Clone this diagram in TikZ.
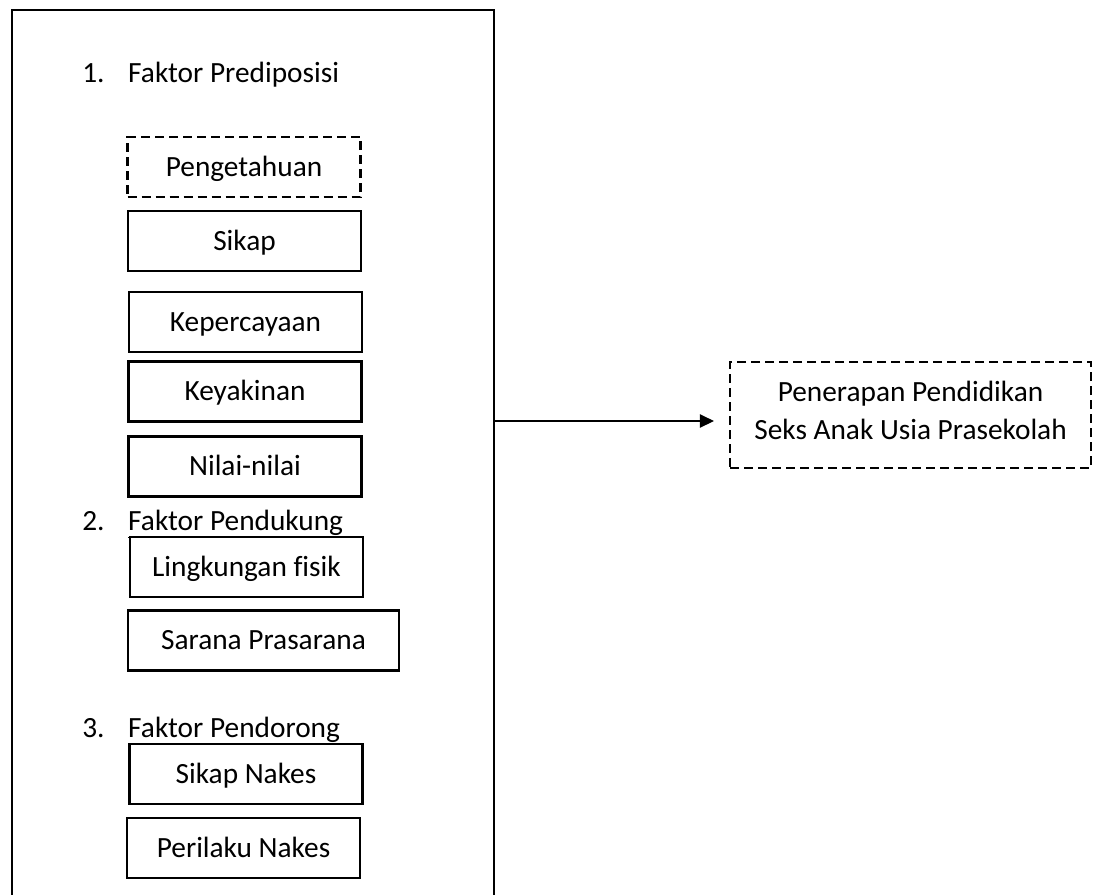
\documentclass[tikz,border=0pt]{standalone}
\usepackage{fontspec}
\setmainfont{Carlito}[Ligatures=NoCommon]
\usetikzlibrary{ arrows.meta, % For the triangle arrow tip
               }
\tikzstyle{factor} = [rectangle, draw=black, line width=1.6pt, fill=white, minimum width=174.75pt, minimum height=45pt, inner sep=0pt, text height=13.9pt, text depth=0pt, font=\fontsize{22}{28.5}\selectfont]
\tikzstyle{dashedfactor} = [factor, dash pattern=on 6.75pt off 3.75pt]
\tikzstyle{heading} = [anchor=base west, inner sep=0pt, font=\fontsize{22}{28.5}\selectfont]
\tikzstyle{flow} = [-{Triangle[length=10.5pt,width=10pt]}, line width=0.8pt]

\begin{document}
\begin{tikzpicture}[x=0.75pt, y=-0.75pt]
  \useasboundingbox (0,0) rectangle (1098,894);
  \node (outer) [rectangle, draw=black, line width=1.6pt, minimum width=361.5pt, minimum height=675pt, inner sep=0pt] at (253,460) {};

  % 1. predisposing factors
  \node (h1) [heading] at (82,82) {\makebox[34.5pt][l]{1.}Faktor Prediposisi};
  \node (peng) [dashedfactor] at (244,167) {Pengetahuan};
  \node (sikap) [factor] at (244.5,241) {Sikap};
  \node (percaya) [factor] at (245.5,322) {Kepercayaan};
  \node (yakin) [factor] at (245,391.5) {Keyakinan};
  \node (nilai) [factor] at (245,466.5) {Nilai-nilai};

  % 2. enabling factors
  \node (h2) [heading] at (82,530) {\makebox[34.5pt][l]{2.}\underline{Faktor Pendukung}};
  \node (fisik) [factor] at (246.5,567) {Lingkungan fisik};
  \node (sarana) [factor, minimum width=203.25pt] at (263.5,640.5) {Sarana Prasarana};

  % 3. reinforcing factors
  \node (h3) [heading] at (82,737) {\makebox[34.5pt][l]{3.}\underline{Faktor Pendorong}};
  \node (nakes) [factor] at (246,774) {Sikap Nakes};
  \node (perilaku) [factor] at (243.5,848) {Perilaku Nakes};

  % outcome
  \node (tgt) [dashedfactor, minimum width=270.75pt, minimum height=79.5pt, text height=, text depth=7.5pt, align=center] at (910.5,415) {Penerapan Pendidikan\\Seks Anak Usia Prasekolah};
  \coordinate (arrowend) at ([yshift=-4.5pt]tgt.west);
  \draw [flow, shorten >=11.25pt] (arrowend -| outer.east) -- (arrowend);
\end{tikzpicture}
\end{document}
